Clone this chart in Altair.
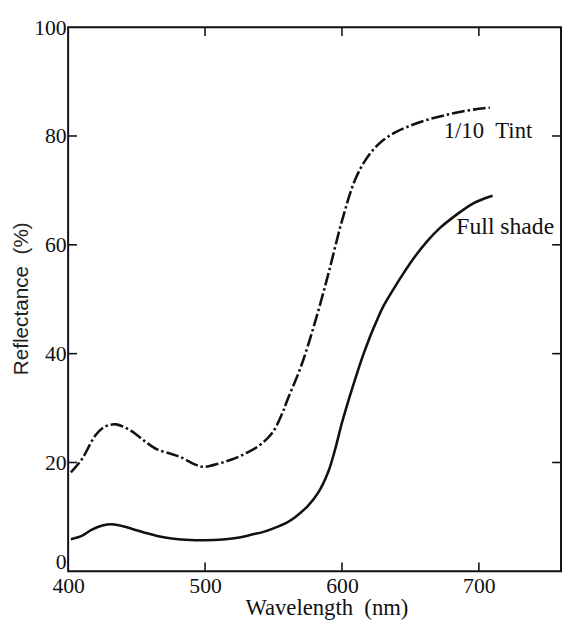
import altair as alt
import pandas as pd

# Data
wl_tint = [402, 410, 420, 427, 435, 446, 456, 465, 475, 482, 492, 499, 510, 520, 530, 540, 549, 556,
           560, 570, 580, 590, 600, 610, 620, 630, 640, 650, 660, 670, 680, 690, 700, 708]
refl_tint = [18.2, 20.6, 25.0, 26.6, 27.0, 25.8, 23.9, 22.4, 21.6, 21.0, 19.7, 19.2, 19.8, 20.6, 21.7, 23.2, 25.4, 28.8,
             31.4, 37.6, 45.5, 54.6, 64.4, 72.2, 76.6, 79.2, 80.8, 81.9, 82.8, 83.5, 84.1, 84.6, 85.0, 85.2]

wl_full = [402, 410, 417, 425, 432, 440, 448, 456, 465, 477, 489, 500, 513, 525, 535, 542, 550, 560, 566,
           575, 583, 590, 595, 600, 605, 610, 615, 620, 625, 630, 638, 645, 652, 662, 672, 684, 695, 704, 710]
refl_full = [5.9, 6.5, 7.6, 8.4, 8.65, 8.3, 7.7, 7.1, 6.5, 6.0, 5.75, 5.7, 5.85, 6.2, 6.8, 7.2, 7.9, 9.0, 10.0,
             12.0, 14.6, 18.3, 22.4, 27.3, 31.6, 35.6, 39.4, 42.8, 45.8, 48.6, 52.0, 54.8, 57.4, 60.6, 63.2, 65.6, 67.5, 68.5, 69.0]

x_ticks = [400, 500, 600, 700]
y_ticks = [0, 20, 40, 60, 80, 100]
x_inner_ticks = [500, 600, 700]
y_inner_ticks = [20, 40, 60, 80]

label_text = ["1/10\u00a0\u00a0Tint", "Full shade"]
label_x = [739, 755]
label_y = [79.7, 62.0]
label_size = [23, 24]

W, H = 500, 552
SERIF = "Liberation Serif"

tint_df = pd.DataFrame({"wl": wl_tint, "r": refl_tint})
full_df = pd.DataFrame({"wl": wl_full, "r": refl_full})
xt_df = pd.DataFrame({"wl": x_inner_ticks})
yt_df = pd.DataFrame({"r": y_inner_ticks})
lab_df = pd.DataFrame({"t": label_text, "wl": label_x, "r": label_y, "s": label_size})

xscale = alt.Scale(domain=[400, 760], nice=False, zero=False)
yscale = alt.Scale(domain=[0, 100], nice=False, zero=False)

x_axis = alt.Axis(
    values=x_ticks, grid=False, domain=False, ticks=False,
    labelFont=SERIF, labelFontSize=22, labelColor="#111",
    labelBaseline="alphabetic", labelPadding=21, labelFlush=False,
    title="Wavelength\u00a0\u00a0(nm)", titleFont=SERIF, titleFontSize=23,
    titleFontWeight="normal", titleColor="#111",
    titleX=262, titleY=44, titleBaseline="alphabetic",
)
y_axis = alt.Axis(
    values=y_ticks, grid=False, domain=False, ticks=False,
    labelFont=SERIF, labelFontSize=22, labelColor="#111",
    labelPadding=2, labelFlush=False,
    labelBaseline={"condition": {"test": "datum.value === 0", "value": "alphabetic"}, "value": "middle"},
    labelOffset={"condition": {"test": "datum.value === 0", "value": -3}, "value": 0},
    title="Reflectance\u00a0\u00a0(%)", titleFont="Liberation Sans", titleFontSize=21,
    titleFontWeight="normal", titleColor="#222",
    titleX=-41, titleY=275, titleBaseline="alphabetic",
)

tint = alt.Chart(tint_df).mark_line(
    color="#111", strokeWidth=2.6, strokeDash=[13, 3, 2.5, 3], interpolate="catmull-rom"
).encode(
    x=alt.X("wl:Q", scale=xscale, axis=x_axis),
    y=alt.Y("r:Q", scale=yscale, axis=y_axis),
)

full = alt.Chart(full_df).mark_line(
    color="#111", strokeWidth=2.6, interpolate="catmull-rom"
).encode(
    x=alt.X("wl:Q", scale=xscale),
    y=alt.Y("r:Q", scale=yscale),
)

tick_style = dict(color="#111", strokeWidth=1.6)
top_ticks = alt.Chart(xt_df).mark_rule(**tick_style).encode(
    x=alt.X("wl:Q", scale=xscale), y=alt.value(0), y2=alt.value(9))
bottom_ticks = alt.Chart(xt_df).mark_rule(**tick_style).encode(
    x=alt.X("wl:Q", scale=xscale), y=alt.value(H), y2=alt.value(H - 9))
left_ticks = alt.Chart(yt_df).mark_rule(**tick_style).encode(
    y=alt.Y("r:Q", scale=yscale), x=alt.value(0), x2=alt.value(9))
right_ticks = alt.Chart(yt_df).mark_rule(**tick_style).encode(
    y=alt.Y("r:Q", scale=yscale), x=alt.value(W), x2=alt.value(W - 9))

labels = alt.Chart(lab_df).mark_text(
    font=SERIF, align="right", baseline="alphabetic", color="#111"
).encode(
    x=alt.X("wl:Q", scale=xscale),
    y=alt.Y("r:Q", scale=yscale),
    text="t:N",
    size=alt.Size("s:Q", scale=None, legend=None),
)

chart = alt.layer(
    tint, full, top_ticks, bottom_ticks, left_ticks, right_ticks, labels
).properties(
    width=W, height=H,
    autosize=alt.AutoSizeParams(type="none"),
    padding={"left": 61, "top": 15, "right": 2, "bottom": 48},
    background="white",
).configure_view(
    stroke="#111", strokeWidth=2
)

chart.save("out.html", embed_options={"renderer": "svg", "actions": False})
